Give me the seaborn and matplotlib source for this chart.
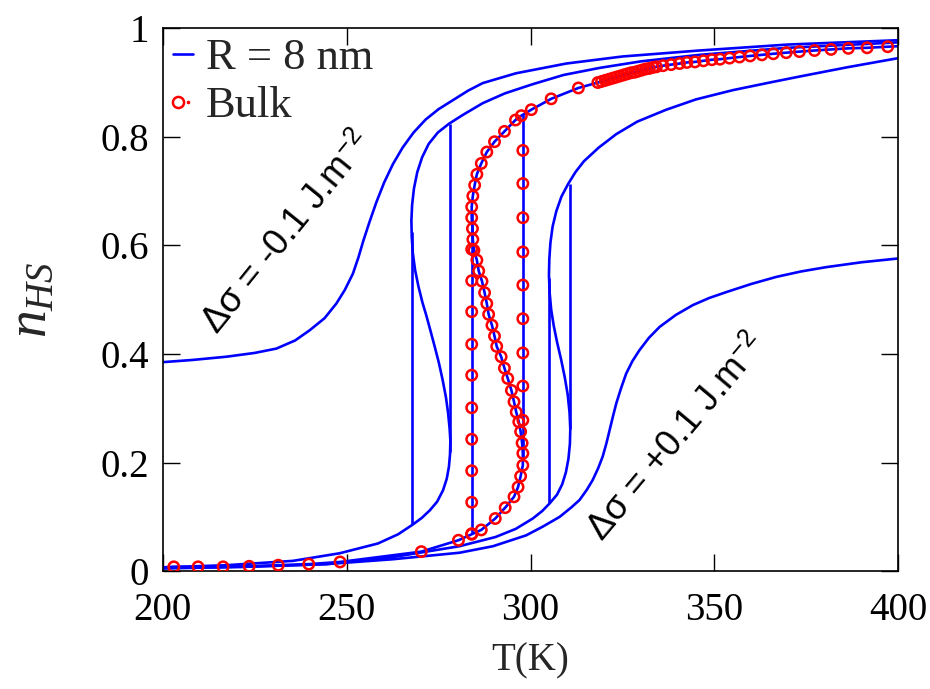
import matplotlib
matplotlib.use("Agg")
import matplotlib.pyplot as plt
from matplotlib.lines import Line2D
from matplotlib.legend_handler import HandlerTuple
import seaborn as sns
import pandas as pd

# ---------------- data ----------------
# R = 8 nm, delta sigma = -0.1 J/m^2
T_m010 = [200.0, 208.0, 217.3, 225.0, 230.9, 236.0, 240.0, 244.0, 247.2, 249.5, 251.7, 253.2,
          254.6, 256.3, 258.1, 260.2, 262.6, 265.2, 268.2, 271.5, 275.0, 279.0, 283.0, 287.0,
          296.0, 309.7, 325.0, 345.9, 370.0, 400.0]
n_m010 = [0.385, 0.389, 0.395, 0.402, 0.410, 0.425, 0.444, 0.466, 0.493, 0.518, 0.548, 0.578,
          0.610, 0.645, 0.680, 0.716, 0.750, 0.780, 0.808, 0.832, 0.851, 0.868, 0.885, 0.899,
          0.917, 0.935, 0.948, 0.959, 0.970, 0.978]

# R = 8 nm, intermediate negative delta sigma (S-shaped, hysteresis 268-278 K)
T_m005 = [200.0, 217.3, 235.4, 248.1, 258.5, 264.0, 268.0, 270.4, 272.6, 274.6, 276.2, 277.2,
          277.8, 278.1, 278.2, 278.0, 277.6, 277.0, 276.1, 275.1, 274.0, 272.9, 271.7, 270.6,
          269.5, 268.6, 268.0, 267.7, 267.6, 267.8, 268.3, 269.2, 270.5, 272.3, 274.8, 277.8,
          281.5, 287.0, 293.0, 300.6, 309.0, 318.8, 330.0, 345.9, 370.0, 400.0]
n_m005 = [0.007, 0.011, 0.019, 0.033, 0.051, 0.068, 0.086, 0.098, 0.112, 0.128, 0.149, 0.170,
          0.192, 0.215, 0.240, 0.262, 0.290, 0.320, 0.352, 0.383, 0.412, 0.440, 0.470, 0.495,
          0.525, 0.555, 0.585, 0.615, 0.646, 0.675, 0.705, 0.735, 0.762, 0.787, 0.808, 0.824,
          0.840, 0.862, 0.880, 0.897, 0.914, 0.927, 0.939, 0.951, 0.964, 0.974]

# Bulk (markers), coincides with R = 8 nm at delta sigma = 0
T_bulk = [203.0, 209.6, 216.4, 223.5, 231.4, 239.7, 248.2, 270.3, 280.4, 284.0, 286.6, 290.4,
          293.1, 295.5, 296.6, 297.3, 297.9, 297.9, 297.7, 297.3, 296.8, 296.1, 295.5, 294.8,
          293.8, 292.9, 292.0, 290.8, 290.2, 289.5, 288.6, 288.1, 287.5, 286.8, 285.9, 285.4,
          284.6, 284.3, 284.2, 284.0, 284.0, 284.3, 284.8, 285.4, 286.6, 288.1, 290.2, 292.9,
          295.9, 297.5, 300.2, 305.6, 313.0, 318.3, 319.3, 320.3, 321.3, 322.3, 323.3, 324.3,
          325.3, 326.3, 327.3, 328.3, 329.3, 330.3, 331.3, 332.3, 333.3, 334.2, 336.0, 338.2,
          340.5, 342.5, 344.7, 347.0, 349.3, 351.5, 354.1, 356.8, 359.7, 362.9, 366.0, 369.5,
          373.1, 377.2, 381.7, 386.4, 391.5, 397.1]
n_bulk = [0.008, 0.008, 0.008, 0.009, 0.011, 0.013, 0.017, 0.036, 0.057, 0.068, 0.076, 0.097,
          0.117, 0.137, 0.155, 0.175, 0.195, 0.217, 0.236, 0.257, 0.275, 0.293, 0.312, 0.333,
          0.355, 0.374, 0.395, 0.414, 0.433, 0.453, 0.473, 0.493, 0.513, 0.534, 0.553, 0.573,
          0.591, 0.611, 0.631, 0.651, 0.671, 0.691, 0.711, 0.731, 0.751, 0.772, 0.791, 0.810,
          0.831, 0.839, 0.850, 0.870, 0.890, 0.900, 0.902, 0.904, 0.906, 0.908, 0.910, 0.912,
          0.914, 0.916, 0.918, 0.919, 0.921, 0.923, 0.925, 0.926, 0.928, 0.929, 0.931, 0.933,
          0.935, 0.937, 0.938, 0.940, 0.942, 0.943, 0.945, 0.947, 0.949, 0.951, 0.953, 0.955,
          0.957, 0.959, 0.961, 0.963, 0.964, 0.966]
bulk_line_start = (200.0, 0.007)
bulk_line_end = (400.0, 0.967)

# Bulk markers on the vertical (hysteresis) jumps
T_bulk_cool = 284.0
n_bulk_cool = [0.593, 0.535, 0.478, 0.418, 0.361, 0.301, 0.243, 0.185, 0.127, 0.069]
T_bulk_heat = 297.9
n_bulk_heat = [0.775, 0.714, 0.651, 0.588, 0.527, 0.465, 0.402, 0.341, 0.278]

# R = 8 nm, intermediate positive delta sigma (S-shaped, hysteresis 305-311 K)
T_p005 = [200.0, 221.8, 244.5, 262.6, 280.7, 290.5, 296.0, 300.6, 303.2, 305.2, 307.2, 308.6,
          309.6, 310.3, 310.7, 310.8, 310.6, 310.1, 309.3, 308.3, 307.2, 306.3, 305.6, 305.2,
          305.0, 305.1, 305.4, 306.0, 307.0, 308.4, 310.2, 312.2, 314.5, 318.5, 323.3, 329.0,
          336.9, 345.0, 355.0, 365.0, 373.1, 386.0, 400.0]
n_p005 = [0.006, 0.008, 0.013, 0.026, 0.046, 0.063, 0.078, 0.097, 0.111, 0.125, 0.141, 0.160,
          0.182, 0.207, 0.235, 0.262, 0.292, 0.325, 0.357, 0.390, 0.422, 0.452, 0.482, 0.512,
          0.545, 0.575, 0.605, 0.635, 0.663, 0.690, 0.713, 0.735, 0.755, 0.780, 0.805, 0.828,
          0.850, 0.869, 0.886, 0.900, 0.911, 0.928, 0.945]

# R = 8 nm, delta sigma = +0.1 J/m^2
T_p010 = [200.0, 221.8, 244.5, 262.6, 280.7, 289.8, 298.8, 303.3, 307.9, 311.0, 313.3, 315.3,
          316.9, 318.4, 319.6, 320.6, 321.5, 322.4, 323.3, 324.6, 326.0, 327.7, 329.6, 332.2,
          335.1, 339.5, 344.1, 348.5, 353.2, 360.0, 366.8, 373.5, 380.4, 390.0, 400.0]
n_p010 = [0.005, 0.008, 0.013, 0.022, 0.034, 0.046, 0.066, 0.082, 0.100, 0.117, 0.131, 0.150,
          0.168, 0.190, 0.211, 0.235, 0.260, 0.285, 0.309, 0.337, 0.364, 0.387, 0.407, 0.430,
          0.450, 0.472, 0.490, 0.503, 0.514, 0.529, 0.542, 0.552, 0.560, 0.569, 0.576]

# vertical hysteresis jumps of the R = 8 nm curves
jump_T = [267.7, 278.1, 284.0, 297.9, 305.1, 310.7]
jump_n_low = [0.086, 0.220, 0.068, 0.205, 0.125, 0.262]
jump_n_high = [0.625, 0.824, 0.665, 0.842, 0.540, 0.714]

x_ticks = [200, 250, 300, 350, 400]
y_ticks = [0, 0.2, 0.4, 0.6, 0.8, 1.0]
y_tick_labels = ["0", "0.2", "0.4", "0.6", "0.8", "1"]

label_neg = "Δσ = -0.1 J.m$^{-2}$"
label_pos = "Δσ = +0.1 J.m$^{-2}$"
label_neg_pos = (234.0, 0.622)
label_pos_pos = (339.9, 0.245)

# ---------------- style ----------------
sns.set_theme(style="ticks")
plt.rcParams["font.family"] = ["Liberation Serif", "DejaVu Serif"]
plt.rcParams["mathtext.fontset"] = "custom"
plt.rcParams["mathtext.rm"] = "Liberation Sans"
plt.rcParams["mathtext.it"] = "Liberation Serif:style=italic"
plt.rcParams["mathtext.bf"] = "Liberation Serif:weight=bold"

BLUE = "#0000ff"
RED = "#ff0000"
LW = 1.9

fig = plt.figure(figsize=(9.3, 6.89), dpi=100)
ax = fig.add_axes([0.175, 0.171, 0.791, 0.788])

for T, n in [(T_m010, n_m010), (T_m005, n_m005), (T_p005, n_p005), (T_p010, n_p010)]:
    sns.lineplot(x=T, y=n, sort=False, estimator=None, color=BLUE, lw=LW, ax=ax, legend=False)

T_line0 = [bulk_line_start[0]] + T_bulk + [bulk_line_end[0]]
n_line0 = [bulk_line_start[1]] + n_bulk + [bulk_line_end[1]]
sns.lineplot(x=T_line0, y=n_line0, sort=False, estimator=None, color=BLUE, lw=LW, ax=ax, legend=False)

ax.vlines(jump_T, jump_n_low, jump_n_high, colors=BLUE, lw=LW)

marks = pd.DataFrame({
    "T": T_bulk + [T_bulk_cool] * len(n_bulk_cool) + [T_bulk_heat] * len(n_bulk_heat),
    "n": n_bulk + n_bulk_cool + n_bulk_heat,
})
sns.scatterplot(data=marks, x="T", y="n", marker="o", s=56, linewidth=1.8, ax=ax,
                legend=False, zorder=5)
coll = ax.collections[-1]
coll.set_facecolor("none")
coll.set_edgecolor(RED)

# annotations
ax.text(*label_neg_pos, label_neg, rotation=51, rotation_mode="anchor", ha="center",
        va="center", fontsize=26, family=["Liberation Sans", "DejaVu Sans"], color="black")
ax.text(*label_pos_pos, label_pos, rotation=50, rotation_mode="anchor", ha="center",
        va="center", fontsize=26, family=["Liberation Sans", "DejaVu Sans"], color="black")

# axes
ax.set_xlim(200, 400)
ax.set_ylim(0, 1)
ax.set_xticks(x_ticks)
ax.set_xticklabels([str(v) for v in x_ticks])
ax.set_yticks(y_ticks)
ax.set_yticklabels(y_tick_labels)
ax.tick_params(direction="in", length=12, width=1.0, top=True, right=True,
               labelsize=28, colors="black")
ax.tick_params(axis="x", pad=15)
ax.tick_params(axis="y", pad=10)
for sp in ax.spines.values():
    sp.set_visible(True)
    sp.set_linewidth(1.2)
    sp.set_color("black")
ax.set_xlabel("T(K)", fontsize=28, labelpad=10)
ax.set_ylabel("$n_{HS}$", fontsize=40, labelpad=30)

# legend
h_line = Line2D([], [], color=BLUE, lw=LW)
h_ring = Line2D([], [], ls="none", marker="o", ms=8, mfc="none", mec=RED, mew=1.8)
h_dot = Line2D([], [], ls="none", marker="o", ms=1.6, mfc=RED, mec=RED)
ax.legend([h_line, (h_ring, h_dot)], ["R = 8 nm", "Bulk"], loc="upper left",
          frameon=False, fontsize=32, handlelength=0.45, handletextpad=0.3,
          borderaxespad=0.1, labelspacing=0.18, borderpad=0.12,
          handler_map={tuple: HandlerTuple(ndivide=None, pad=0)})

fig.savefig("out.png", dpi=100)
